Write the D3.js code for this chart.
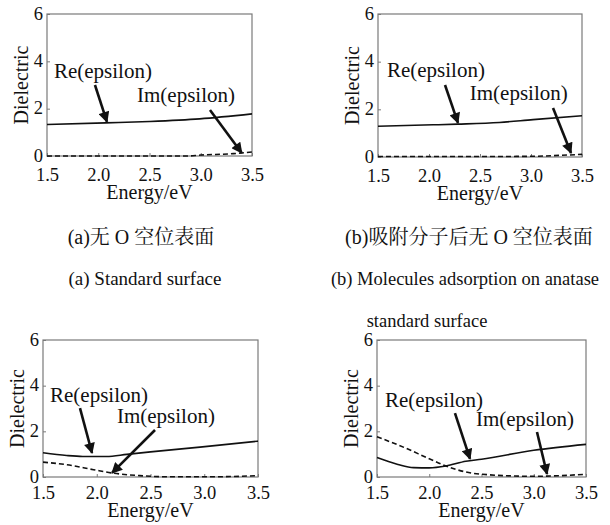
<!DOCTYPE html>
<html>
<head>
<meta charset="utf-8">
<script src="https://cdn.jsdelivr.net/npm/d3@7"></script>
<style>
html,body{margin:0;padding:0;background:#fff;}
svg{display:block;}
</style>
</head>
<body>
<svg id="chart" width="610" height="525"></svg>
<script>
// ---------------- data ----------------
const xTicks = [1.5, 2.0, 2.5, 3.0, 3.5];
const yTicks = [0, 2, 4, 6];
const xTitle = "Energy/eV";
const yTitle = "Dielectric";
const reLabel = "Re(epsilon)";
const imLabel = "Im(epsilon)";

// panel (a) Standard surface
const energyA = [1.5, 2.07, 2.5, 2.99, 3.5];
const reA     = [1.33, 1.40, 1.46, 1.57, 1.78];
const energyAIm = [1.5, 2.86, 3.0, 3.32, 3.5];
const imA       = [0.0, 0.0, 0.04, 0.10, 0.17];

// panel (b) Molecules adsorption on anatase standard surface
const energyB = [1.5, 2.04, 2.28, 2.69, 3.02, 3.5];
const reB     = [1.29, 1.35, 1.38, 1.45, 1.57, 1.73];
const energyBIm = [1.5, 2.5, 3.02, 3.29, 3.5];
const imB       = [0.02, 0.02, 0.03, 0.07, 0.11];

// panel (c)
const energyC = [1.5, 1.72, 1.87, 2.09, 2.28, 2.5, 2.96, 3.5];
const reC     = [1.06, 0.94, 0.90, 0.90, 0.99, 1.10, 1.31, 1.57];
const energyCIm = [1.5, 1.72, 1.97, 2.15, 2.4, 2.65, 3.1, 3.5];
const imC       = [0.65, 0.54, 0.32, 0.17, 0.06, 0.01, 0.01, 0.06];

// panel (d)
const energyD = [1.5, 1.7, 1.85, 2.0, 2.16, 2.35, 2.5, 3.0, 3.5];
const reD     = [0.85, 0.55, 0.41, 0.40, 0.48, 0.69, 0.78, 1.17, 1.43];
const energyDIm = [1.5, 1.71, 2.0, 2.16, 2.35, 2.5, 3.0, 3.5];
const imD       = [1.76, 1.39, 0.80, 0.48, 0.22, 0.12, 0.03, 0.12];

// captions
const captionZhA = "(a)无 O 空位表面";
const captionZhB = "(b)吸附分子后无 O 空位表面";
const captionEnA = "(a) Standard surface";
const captionEnB1 = "(b) Molecules adsorption on anatase";
const captionEnB2 = "standard surface";

// ---------------- layout ----------------
// annotation anchors in data units: [energy, value]
const panels = [
  {left:47, right:252, top:14, bottom:156, titleOff:43,
   re:[energyA, reA], im:[energyAIm, imA],
   reText:[1.568, 3.30], imText:[2.378, 2.28],
   reArrow:[[1.968, 3.0],[2.085, 1.44]], imArrow:[[3.09, 1.94],[3.40, 0.13]]},
  {left:378, right:582, top:14, bottom:157, titleOff:43,
   re:[energyB, reB], im:[energyBIm, imB],
   reText:[1.588, 3.36], imText:[2.40, 2.39],
   reArrow:[[2.157, 3.02],[2.284, 1.43]], imArrow:[[3.216, 2.06],[3.392, 0.17]]},
  {left:43, right:258, top:340, bottom:477, titleOff:40,
   re:[energyC, reC], im:[energyCIm, imC],
   reText:[1.565, 3.29], imText:[2.188, 2.37],
   reArrow:[[1.844, 3.02],[1.956, 1.05]], imArrow:[[2.542, 2.06],[2.142, 0.18]]},
  {left:377, right:586, top:340, bottom:477, titleOff:40,
   re:[energyD, reD], im:[energyDIm, imD],
   reText:[1.577, 3.07], imText:[2.447, 2.23],
   reArrow:[[2.246, 2.80],[2.39, 0.79]], imArrow:[[3.031, 1.97],[3.127, 0.13]]}
];

const serif = '"Liberation Serif", "Tinos", "Times New Roman", serif';
const cjk = '"Liberation Serif", "Noto Serif CJK SC", "Noto Sans CJK SC", serif';

const svg = d3.select("#chart");
const defs = svg.append("defs");
defs.append("marker").attr("id","arrowhead")
  .attr("viewBox","0 0 10 10").attr("refX",9).attr("refY",5)
  .attr("markerUnits","userSpaceOnUse")
  .attr("markerWidth",12).attr("markerHeight",11).attr("orient","auto")
  .append("path").attr("d","M0,0 L10,5 L0,10 Z").attr("fill","#111");

panels.forEach(p => {
  const x = d3.scaleLinear().domain([1.5, 3.5]).range([p.left, p.right]);
  const y = d3.scaleLinear().domain([0, 6]).range([p.bottom, p.top]);
  const g = svg.append("g");

  // frame
  g.append("rect").attr("x", p.left).attr("y", p.top)
    .attr("width", p.right - p.left).attr("height", p.bottom - p.top)
    .attr("fill","none").attr("stroke","#7a7a7a").attr("stroke-width",1.2);

  // axes (inner ticks, labels)
  const xAxis = d3.axisBottom(x).tickValues(xTicks).tickFormat(d3.format(".1f"))
    .tickSizeInner(-3).tickSizeOuter(0).tickPadding(p.titleOff - 31.5);
  const xg = g.append("g").attr("transform",`translate(0,${p.bottom})`).call(xAxis);
  const yAxis = d3.axisLeft(y).tickValues(yTicks).tickFormat(d3.format("d"))
    .tickSizeInner(-3).tickSizeOuter(0).tickPadding(4);
  const yg = g.append("g").attr("transform",`translate(${p.left},0)`).call(yAxis);
  [xg, yg].forEach(ax => {
    ax.attr("font-family", null).attr("font-size", null);
    ax.select(".domain").remove();
    ax.selectAll(".tick line").attr("stroke","#7a7a7a");
    ax.selectAll("text").style("font-family", serif).style("font-size", "18.5px").attr("fill","#111");
  });
  yg.selectAll(".tick text").attr("dy", "0.27em");

  // titles
  g.append("text").attr("x",(p.left+p.right)/2).attr("y", p.bottom + p.titleOff)
    .attr("text-anchor","middle").style("font-family", serif).style("font-size","20px")
    .attr("fill","#111").text(xTitle);
  g.append("text")
    .attr("transform",`translate(${p.left-19},${(p.top+p.bottom)/2}) rotate(-90)`)
    .attr("text-anchor","middle").style("font-family", serif).style("font-size","20px")
    .attr("fill","#111").text(yTitle);

  // lines
  const line = d3.line().x(d => x(d[0])).y(d => y(d[1])).curve(d3.curveMonotoneX);
  const reData = d3.zip(p.re[0], p.re[1]);
  const imData = d3.zip(p.im[0], p.im[1]);
  g.append("path").attr("d", line(imData)).attr("fill","none")
    .attr("stroke","#111").attr("stroke-width",1.6).attr("stroke-dasharray","5,3");
  g.append("path").attr("d", line(reData)).attr("fill","none")
    .attr("stroke","#111").attr("stroke-width",1.6);

  // annotations
  g.append("text").attr("x", x(p.reText[0])).attr("y", y(p.reText[1]))
    .style("font-family", serif).style("font-size","21px").attr("fill","#111").text(reLabel);
  g.append("text").attr("x", x(p.imText[0])).attr("y", y(p.imText[1]))
    .style("font-family", serif).style("font-size","21px").attr("fill","#111").text(imLabel);
  [p.reArrow, p.imArrow].forEach(a => {
    g.append("line").attr("x1", x(a[0][0])).attr("y1", y(a[0][1]))
      .attr("x2", x(a[1][0])).attr("y2", y(a[1][1]))
      .attr("stroke","#111").attr("stroke-width",2.6)
      .attr("marker-end","url(#arrowhead)");
  });
});

// captions
const cap = (t, cx, cy, fam, size) => svg.append("text").attr("x",cx).attr("y",cy)
  .attr("text-anchor","middle").style("font-family",fam).style("font-size",size+"px")
  .attr("fill","#111").text(t);
cap(captionZhA, 141, 244, cjk, 20);
cap(captionZhB, 469, 244, cjk, 20);
cap(captionEnA, 145, 285, serif, 19);
cap(captionEnB1, 465, 285, serif, 18.5);
cap(captionEnB2, 427, 327, serif, 18.5);
</script>
</body>
</html>
